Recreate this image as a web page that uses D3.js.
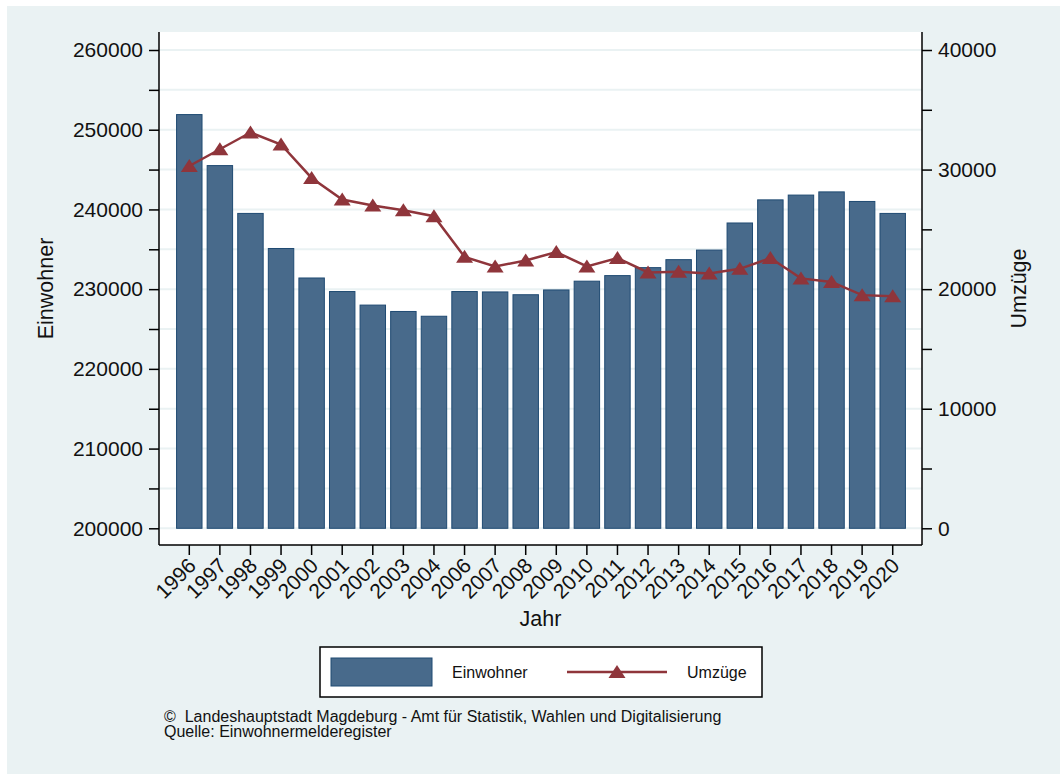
<!DOCTYPE html>
<html>
<head>
<meta charset="utf-8">
<script src="https://cdn.jsdelivr.net/npm/d3@7"></script>
<style>
  html, body { margin: 0; padding: 0; background: #ffffff; }
  svg { display: block; font-family: "Liberation Sans", Arial, Helvetica, sans-serif; }
</style>
</head>
<body>
<svg id="chart" width="1061" height="778"></svg>
<script>
const years = ["1996","1997","1998","1999","2000","2001","2002","2003","2004","2006","2007","2008","2009","2010","2011","2012","2013","2014","2015","2016","2017","2018","2019","2020"];
const einwohner = [251900,245500,239500,235100,231400,229700,228000,227200,226600,229700,229650,229300,229900,231000,231700,232700,233700,234900,238300,241200,241800,242200,241000,239500];
const umzuege = [30300,31700,33100,32100,29300,27500,27000,26600,26100,22700,21900,22400,23100,21900,22600,21400,21450,21300,21700,22600,20900,20600,19500,19400];
const leftTicks = [200000,210000,220000,230000,240000,250000,260000];
const leftMinor = [205000,215000,225000,235000,245000,255000];
const rightTicks = [0,10000,20000,30000,40000];
const rightMinor = [5000,15000,25000,35000];
const gridValues = [200000,205000,210000,215000,220000,225000,230000,235000,240000,245000,250000,255000,260000];

const barFill = "#486a8b";
const barStroke = "#1f4a72";
const lineColor = "#8f353b";
const bgColor = "#eaf2f3";

const svg = d3.select("#chart");

// graph region
svg.append("rect").attr("x", 7).attr("y", 6).attr("width", 1053).attr("height", 768).attr("fill", bgColor);

const plot = { left: 159, right: 922, top: 32, bottom: 545 };
svg.append("rect").attr("x", plot.left).attr("y", plot.top)
  .attr("width", plot.right - plot.left).attr("height", plot.bottom - plot.top).attr("fill", "#ffffff");

const x = d3.scaleBand().domain(years).range([174, 908]).paddingInner(0.168).paddingOuter(0.084);
const yL = d3.scaleLinear().domain([200000, 260000]).range([528.3, 50]);
const yR = d3.scaleLinear().domain([0, 40000]).range([528.3, 50]);

// gridlines
svg.append("g").selectAll("line").data(gridValues).join("line")
  .attr("x1", plot.left).attr("x2", plot.right)
  .attr("y1", d => yL(d)).attr("y2", d => yL(d))
  .attr("stroke", bgColor).attr("stroke-width", 2);

// bars
svg.append("g").selectAll("rect").data(years).join("rect")
  .attr("x", d => x(d)).attr("width", x.bandwidth())
  .attr("y", (d, i) => yL(einwohner[i]))
  .attr("height", (d, i) => yL(200000) - yL(einwohner[i]))
  .attr("fill", barFill).attr("stroke", barStroke).attr("stroke-width", 1);

// line
const line = d3.line().x((d, i) => x(years[i]) + x.bandwidth() / 2).y(d => yR(d));
svg.append("path").datum(umzuege).attr("d", line)
  .attr("fill", "none").attr("stroke", lineColor).attr("stroke-width", 2.5);

const tri = "M0,-7L8.5,6L-8.5,6Z";
svg.append("g").selectAll("path").data(umzuege).join("path")
  .attr("d", tri)
  .attr("transform", (d, i) => `translate(${x(years[i]) + x.bandwidth() / 2},${yR(d)})`)
  .attr("fill", lineColor);

// frame lines
svg.append("line").attr("x1", plot.left).attr("x2", plot.left).attr("y1", plot.top).attr("y2", plot.bottom).attr("stroke", "#000").attr("stroke-width", 1.5);
svg.append("line").attr("x1", plot.right).attr("x2", plot.right).attr("y1", plot.top).attr("y2", plot.bottom).attr("stroke", "#000").attr("stroke-width", 1.5);
svg.append("line").attr("x1", plot.left).attr("x2", plot.right).attr("y1", plot.bottom).attr("y2", plot.bottom).attr("stroke", "#000").attr("stroke-width", 1.5);

function styleAxis(g) {
  g.select(".domain").remove();
  g.selectAll(".tick line").attr("stroke", "#000").attr("stroke-width", 1.5);
  g.selectAll(".tick text").attr("fill", "#111").attr("font-size", 21)
    .attr("font-family", "'Liberation Sans', Arial, sans-serif");
}

// left axis
svg.append("g").attr("transform", `translate(${plot.left},0)`)
  .call(d3.axisLeft(yL).tickValues(leftTicks).tickFormat(d3.format("d")).tickSize(10).tickPadding(6))
  .call(styleAxis);
svg.append("g").attr("transform", `translate(${plot.left},0)`)
  .call(d3.axisLeft(yL).tickValues(leftMinor).tickFormat("").tickSize(10))
  .call(styleAxis);

// right axis
svg.append("g").attr("transform", `translate(${plot.right},0)`)
  .call(d3.axisRight(yR).tickValues(rightTicks).tickFormat(d3.format("d")).tickSize(10).tickPadding(6))
  .call(styleAxis);
svg.append("g").attr("transform", `translate(${plot.right},0)`)
  .call(d3.axisRight(yR).tickValues(rightMinor).tickFormat("").tickSize(10))
  .call(styleAxis);

// bottom axis
const xg = svg.append("g").attr("transform", `translate(0,${plot.bottom})`)
  .call(d3.axisBottom(x).tickSize(10).tickPadding(4))
  .call(styleAxis);
xg.selectAll(".tick text")
  .attr("text-anchor", "end")
  .attr("dy", null)
  .attr("y", 0)
  .attr("transform", "translate(8,22) rotate(-45)");

// axis titles
svg.append("text").attr("transform", `translate(53,${(plot.top + plot.bottom) / 2}) rotate(-90)`)
  .attr("text-anchor", "middle").attr("font-size", 21.5).attr("fill", "#111").text("Einwohner");
svg.append("text").attr("transform", `translate(1026,${(plot.top + plot.bottom) / 2}) rotate(-90)`)
  .attr("text-anchor", "middle").attr("font-size", 21.5).attr("fill", "#111").text("Umzüge");
svg.append("text").attr("x", (plot.left + plot.right) / 2).attr("y", 626)
  .attr("text-anchor", "middle").attr("font-size", 21.5).attr("fill", "#111").text("Jahr");

// legend
const lg = svg.append("g");
lg.append("rect").attr("x", 320).attr("y", 647).attr("width", 442).attr("height", 50)
  .attr("fill", "#fff").attr("stroke", "#000").attr("stroke-width", 1.5);
lg.append("rect").attr("x", 331).attr("y", 658).attr("width", 101).attr("height", 28)
  .attr("fill", barFill).attr("stroke", barStroke).attr("stroke-width", 1);
lg.append("text").attr("x", 452).attr("y", 678).attr("font-size", 16).attr("fill", "#111").text("Einwohner");
lg.append("line").attr("x1", 567).attr("x2", 667).attr("y1", 672).attr("y2", 672)
  .attr("stroke", lineColor).attr("stroke-width", 2.5);
lg.append("path").attr("d", tri).attr("transform", "translate(617,672)").attr("fill", lineColor);
lg.append("text").attr("x", 687).attr("y", 678).attr("font-size", 16).attr("fill", "#111").text("Umzüge");

// footer
svg.append("text").attr("x", 164).attr("y", 722).attr("font-size", 16).attr("fill", "#111")
  .attr("xml:space", "preserve").text("©  Landeshauptstadt Magdeburg - Amt für Statistik, Wahlen und Digitalisierung");
svg.append("text").attr("x", 164).attr("y", 737).attr("font-size", 16).attr("fill", "#111")
  .text("Quelle: Einwohnermelderegister");
</script>
</body>
</html>
